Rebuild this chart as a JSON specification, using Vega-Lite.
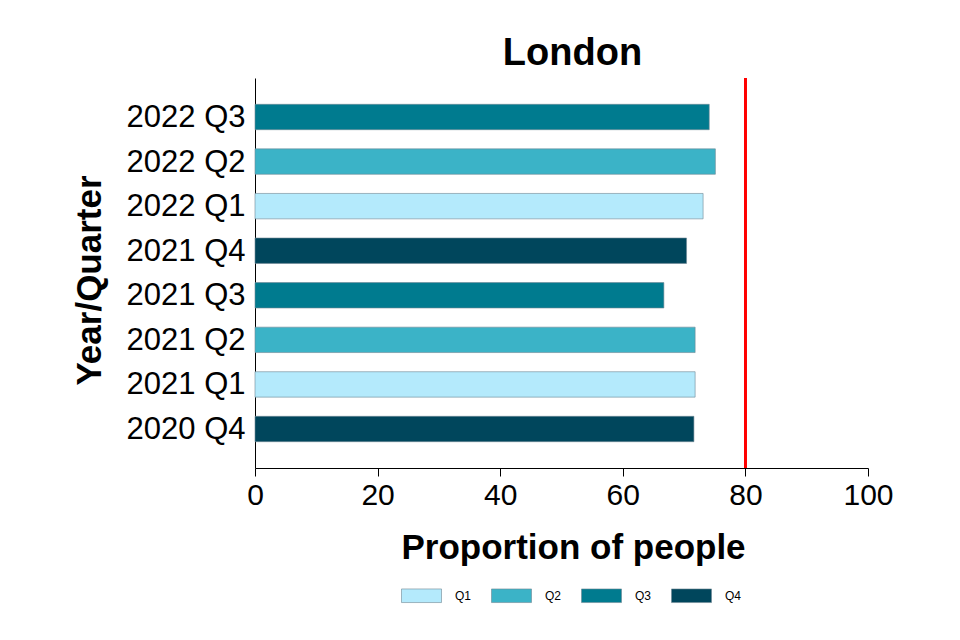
{
  "$schema": "https://vega.github.io/schema/vega-lite/v6.json",
  "width": 613,
  "height": 390,
  "autosize": {"type": "none"},
  "padding": {"left": 255, "top": 78, "right": 92, "bottom": 172},
  "background": "white",
  "config": {
    "font": "Liberation Sans",
    "view": {"stroke": null},
    "axis": {"grid": false, "domainColor": "black", "tickColor": "black", "labelColor": "black", "titleColor": "black", "labelFont": "Liberation Sans", "titleFont": "Liberation Sans"}
  },
  "title": {"text": "London", "fontSize": 38, "fontWeight": "bold", "font": "Liberation Sans", "color": "black", "anchor": "middle", "dx": 11, "dy": 41, "baseline": "alphabetic", "offset": 15},
  "data": {
    "values": [
      {"period": "2020 Q4", "quarter": "Q4", "value": 71.6},
      {"period": "2021 Q1", "quarter": "Q1", "value": 71.8},
      {"period": "2021 Q2", "quarter": "Q2", "value": 71.8},
      {"period": "2021 Q3", "quarter": "Q3", "value": 66.7},
      {"period": "2021 Q4", "quarter": "Q4", "value": 70.4},
      {"period": "2022 Q1", "quarter": "Q1", "value": 73.1},
      {"period": "2022 Q2", "quarter": "Q2", "value": 75.1},
      {"period": "2022 Q3", "quarter": "Q3", "value": 74.1}
    ]
  },
  "layer": [
    {
      "mark": {"type": "bar", "stroke": "#6f8793", "strokeWidth": 0.6},
      "encoding": {
        "y": {
          "field": "period", "type": "nominal",
          "sort": ["2022 Q3", "2022 Q2", "2022 Q1", "2021 Q4", "2021 Q3", "2021 Q2", "2021 Q1", "2020 Q4"],
          "scale": {"paddingInner": 0.43, "paddingOuter": 0.59},
          "axis": {"title": "Year/Quarter", "ticks": false, "labelFontSize": 31, "labelPadding": 10, "labelOffset": 1, "titleFontSize": 35, "titleFontWeight": "bold", "titleAngle": -90, "titleX": -166, "titleY": 202, "titleAlign": "center", "titleBaseline": "middle"}
        },
        "x": {
          "field": "value", "type": "quantitative",
          "scale": {"domain": [0, 100], "nice": false},
          "axis": {"title": "Proportion of people", "values": [0, 20, 40, 60, 80, 100], "tickSize": 8, "labelFontSize": 30, "labelPadding": 4, "labelFlush": false, "titleFontSize": 35, "titleFontWeight": "bold", "titlePadding": 20, "titleX": 318, "titleAlign": "center"}
        },
        "color": {
          "field": "quarter", "type": "nominal",
          "scale": {"domain": ["Q1", "Q2", "Q3", "Q4"], "range": ["#b4eafc", "#3bb3c7", "#007b8f", "#00465c"]},
          "legend": {"title": null, "orient": "none", "direction": "horizontal", "legendX": 146, "legendY": 497, "padding": 0, "symbolType": "M-1,-0.34H1V0.34H-1Z", "symbolSize": 1600, "symbolStrokeColor": "#6f8793", "symbolStrokeWidth": 0.6, "labelFontSize": 12, "labelOffset": 13, "columnPadding": 18, "labelColor": "black", "labelFont": "Liberation Sans"}
        }
      }
    },
    {
      "mark": {"type": "rule", "color": "#ff0000", "strokeWidth": 2},
      "encoding": {"x": {"datum": 80}}
    }
  ]
}
